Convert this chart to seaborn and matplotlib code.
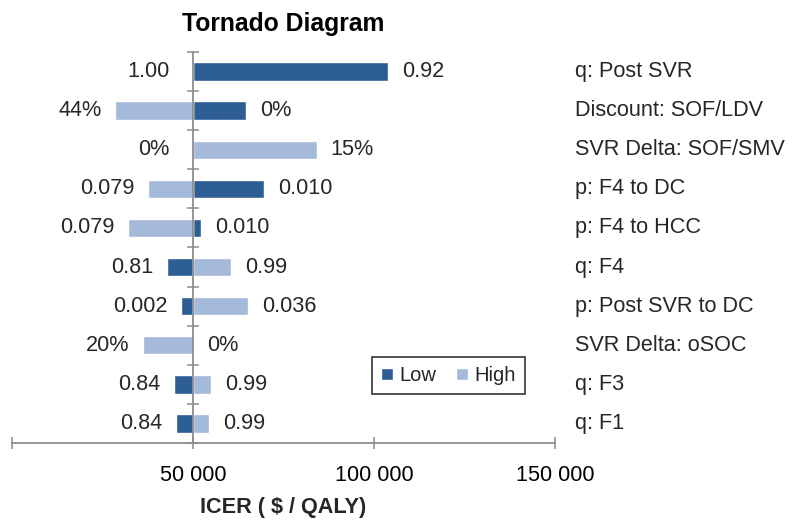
import pandas as pd
import matplotlib
matplotlib.use("Agg")
import matplotlib.pyplot as plt
import matplotlib.transforms as mtransforms
from matplotlib.ticker import FuncFormatter
import seaborn as sns

# tornado data (ICER at low / high value of each parameter)
params = ["q: Post SVR", "Discount: SOF/LDV", "SVR Delta: SOF/SMV", "p: F4 to DC",
          "p: F4 to HCC", "q: F4", "p: Post SVR to DC", "SVR Delta: oSOC", "q: F3", "q: F1"]
base_icer = 50000
low_icer = [104000, 64600, 50000, 69600, 52200, 42800, 46700, 50000, 44800, 45300]
high_icer = [50000, 28500, 84200, 37600, 32100, 60500, 65200, 36200, 55000, 54400]
low_labels = ["0.92", "0%", "0%", "0.010", "0.010", "0.81", "0.002", "0%", "0.84", "0.84"]
high_labels = ["1.00", "44%", "15%", "0.079", "0.079", "0.99", "0.036", "20%", "0.99", "0.99"]
xticks = [0, 50000, 100000, 150000]

dark = "#2C5E94"
light = "#A5B9DB"
grey = "#8C8C8C"
fs = 15.6

sns.set_theme(style="white")
plt.rcParams["font.family"] = ["Liberation Sans", "DejaVu Sans"]
plt.rcParams["font.size"] = fs

df = pd.DataFrame({
    "param": params * 2,
    "delta": [v - base_icer for v in low_icer] + [v - base_icer for v in high_icer],
    "case": ["Low"] * len(params) + ["High"] * len(params),
})

fig = plt.figure(figsize=(8, 5.28), dpi=100)
ax = fig.add_axes([12 / 800, 1 - 443 / 528, 543 / 800, 391 / 528])

sns.barplot(data=df, x="delta", y="param", hue="case", order=params,
            hue_order=["Low", "High"], palette=[dark, light], orient="h",
            dodge=False, width=0.47, ax=ax, saturation=1)

ax.set_xlim(xticks[0] - base_icer, xticks[-1] - base_icer)
ax.set_ylim(len(params) - 0.5, -0.5)
ax.set_xticks([t - base_icer for t in xticks])
ax.xaxis.set_major_formatter(FuncFormatter(
    lambda v, p: "" if v + base_icer == 0 else f"{v + base_icer:,.0f}".replace(",", " ")))
ax.set_yticks([i - 0.5 for i in range(len(params) + 1)])
ax.set_yticklabels([])

for s in ["top", "right"]:
    ax.spines[s].set_visible(False)
ax.spines["left"].set_position(("data", 0))
for s in ["left", "bottom"]:
    ax.spines[s].set_color(grey)
    ax.spines[s].set_linewidth(1.3)
ax.tick_params(axis="both", which="major", direction="inout", length=9, width=1.1,
               color=grey, left=True, bottom=True)
ax.tick_params(axis="x", pad=11, labelsize=fs, labelcolor="black")

ax.set_xlabel("ICER ( $ / QALY)", fontsize=fs, fontweight="bold", labelpad=8)
ax.set_ylabel("")
ax.set_title("Tornado Diagram", fontsize=17.8, fontweight="bold", pad=15, color="black")

# value labels at the bar ends
for i in range(len(params)):
    dl = low_icer[i] - base_icer
    dh = high_icer[i] - base_icer
    if dl >= dh:
        rv, rl, lv, ll = dl, low_labels[i], dh, high_labels[i]
    else:
        rv, rl, lv, ll = dh, high_labels[i], dl, low_labels[i]
    ax.annotate(rl, xy=(max(rv, 0), i), xytext=(10, 0), textcoords="offset points",
                ha="left", va="center", fontsize=fs)
    off = -10 if lv < 0 else -17
    ax.annotate(ll, xy=(min(lv, 0), i), xytext=(off, 0), textcoords="offset points",
                ha="right", va="center", fontsize=fs)

# parameter names on the right
trans = mtransforms.blended_transform_factory(ax.transAxes, ax.transData)
for i, name in enumerate(params):
    ax.text(1.037, i, name, transform=trans, ha="left", va="center", fontsize=fs)

leg = ax.legend(loc="upper left", bbox_to_anchor=(372 / 800, 1 - 357 / 528),
                bbox_transform=fig.transFigure, borderaxespad=0, ncol=2, frameon=True,
                fancybox=False, handlelength=0.6, handleheight=0.6, handletextpad=0.3,
                columnspacing=1.0, borderpad=0.45, fontsize=14.5)
leg.get_frame().set_edgecolor("black")
leg.get_frame().set_linewidth(1.2)

fig.savefig("out.png", dpi=100)
